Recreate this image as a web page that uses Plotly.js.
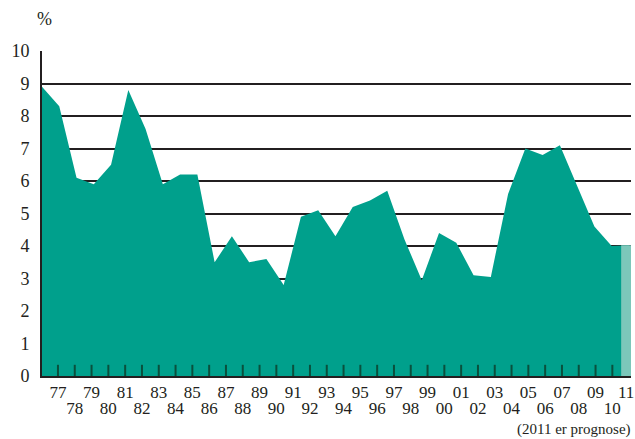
<!DOCTYPE html>
<html>
<head>
<meta charset="utf-8">
<script src="https://cdn.plot.ly/plotly-3.0.1.min.js"></script>
<style>html,body{margin:0;padding:0;background:#fff;}#chart{width:635px;height:439px;}</style>
</head>
<body>
<div id="chart"></div>
<script>
// Data (percent), actual years and 2011 forecast ("prognose")
var years = [1977,1978,1979,1980,1981,1982,1983,1984,1985,1986,1987,1988,1989,1990,1991,1992,1993,1994,1995,1996,1997,1998,1999,2000,2001,2002,2003,2004,2005,2006,2007,2008,2009,2010];
var values = [8.9,8.3,6.1,5.9,6.5,8.8,7.6,5.9,6.2,6.2,3.5,4.3,3.5,3.6,2.8,4.9,5.1,4.3,5.2,5.4,5.7,4.2,2.95,4.4,4.1,3.1,3.05,5.6,7.0,6.8,7.1,5.85,4.6,4.0];
var forecastYear = [2011];
var forecastValue = [4.02];

// Tick labels
var oddYears = [1977,1979,1981,1983,1985,1987,1989,1991,1993,1995,1997,1999,2001,2003,2005,2007,2009];
var evenYears = [1978,1980,1982,1984,1986,1988,1990,1992,1994,1996,1998,2000,2002,2004,2006,2008,2010];
var tickYears = years.slice();
function shortYear(y){ return String(y).slice(2); }
var oddText = oddYears.map(shortYear);
var evenText = evenYears.map(shortYear);
var forecastText = forecastYear.map(shortYear);
var yTicks = [0,1,2,3,4,5,6,7,8,9,10];

var TEAL = '#00a08c';
var LIGHT = '#7cc7ba';
var INK = '#231f20';
var TICKGREEN = '#0a4f3c';
var FONT = 'Liberation Serif, Times New Roman, serif';

var DATA_RANGE = [1977, 2011.12];
var LABEL_RANGE = [1976.05, 2011.11];

function holder(xa){
  return {type: 'scatter', mode: 'markers', x: [], y: [], xaxis: xa, yaxis: 'y',
          hoverinfo: 'skip', showlegend: false};
}

var traces = [
  holder('x'),
  {
    type: 'scatter', mode: 'lines',
    x: years.concat(forecastYear), y: values.concat(forecastValue),
    fill: 'tozeroy', fillcolor: TEAL,
    line: {color: TEAL, width: 0},
    hoverinfo: 'skip', showlegend: false, xaxis: 'x5', yaxis: 'y'
  },
  holder('x2'), holder('x3'), holder('x4'),
  {
    type: 'bar', x: forecastYear, y: forecastValue, width: 0.9,
    marker: {color: LIGHT, line: {width: 0}},
    hoverinfo: 'skip', showlegend: false, xaxis: 'x6', yaxis: 'y'
  },
  // year tick marks standing on the baseline (lower half clipped by the plot area)
  {
    type: 'scatter', mode: 'markers',
    x: tickYears, y: tickYears.map(function(){ return 0; }),
    marker: {symbol: 'line-ns-open', size: 16, color: TICKGREEN,
             line: {color: TICKGREEN, width: 2}},
    cliponaxis: true,
    hoverinfo: 'skip', showlegend: false, xaxis: 'x7', yaxis: 'y'
  }
];

function dataAxis(){
  return {overlaying: 'x', anchor: 'y', side: 'bottom',
    range: DATA_RANGE, showgrid: false, zeroline: false,
    showticklabels: false, ticks: '', showline: false};
}
function labelAxis(vals, text, standoff, shift){
  return {overlaying: 'x', anchor: 'y', side: 'bottom',
    range: LABEL_RANGE, showgrid: false, zeroline: false,
    tickmode: 'array', tickvals: vals, ticktext: text,
    ticks: '', showline: false,
    tickfont: {family: FONT, size: 17, color: INK},
    ticklabelstandoff: standoff, ticklabelshift: shift || 0,
    ticklabeloverflow: 'allow'};
}

var layout = {
  width: 635, height: 439,
  margin: {l: 42, r: 4, t: 51, b: 63, pad: 0},
  paper_bgcolor: '#fff', plot_bgcolor: '#fff',
  showlegend: false,
  font: {family: FONT, color: INK},
  xaxis: {
    range: LABEL_RANGE, showgrid: false, zeroline: false,
    tickmode: 'array', tickvals: tickYears,
    ticks: '', showticklabels: false,
    showline: true, linecolor: INK, linewidth: 2, fixedrange: true
  },
  xaxis5: dataAxis(),
  xaxis6: dataAxis(),
  xaxis7: {overlaying: 'x', anchor: 'y', side: 'bottom',
    range: LABEL_RANGE, showgrid: false, zeroline: false,
    showticklabels: false, ticks: '', showline: false},
  xaxis2: labelAxis(oddYears, oddText, 4),
  xaxis3: labelAxis(evenYears, evenText, 20),
  xaxis4: labelAxis(forecastYear, forecastText, 4, -3),
  yaxis: {
    range: [0, 10], tickmode: 'array', tickvals: yTicks,
    showgrid: true, gridcolor: INK, gridwidth: 2,
    zeroline: false, showline: true, linecolor: INK, linewidth: 2,
    ticks: '', tickfont: {family: FONT, size: 18, color: INK},
    ticklabelstandoff: 7, fixedrange: true
  },
  annotations: [
    {text: '%', xref: 'paper', yref: 'paper', x: 0.005, y: 1.098,
     xanchor: 'center', yanchor: 'middle', showarrow: false,
     font: {family: FONT, size: 18, color: INK}},
    {text: '(2011 er prognose)', xref: 'paper', yref: 'paper', x: 1.0034, y: -0.166,
     xanchor: 'right', yanchor: 'middle', showarrow: false,
     font: {family: FONT, size: 15, color: INK}}
  ]
};

Plotly.newPlot('chart', traces, layout, {displayModeBar: false, staticPlot: true});
</script>
</body>
</html>
